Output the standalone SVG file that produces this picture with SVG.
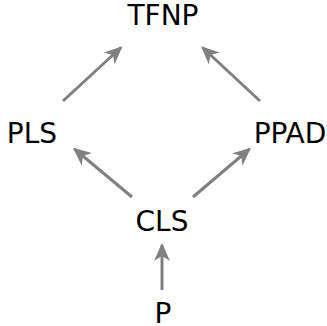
<svg xmlns="http://www.w3.org/2000/svg" width="327" height="326" viewBox="0 0 327 326">
<style>
text{font-family:"DejaVu Sans",sans-serif;font-size:28px;fill:#000;text-anchor:middle}
.e{stroke:#808080;stroke-width:3;fill:none;marker-end:url(#ah)}
</style>
<defs>
<marker id="ah" markerUnits="userSpaceOnUse" viewBox="-20 -10 24 20" refX="0" refY="0" markerWidth="24" markerHeight="20" orient="auto">
<path d="M2,0 L-16,-8 L-11,0 L-16,8 Z" fill="#808080"/>
</marker>
</defs>
<rect width="327" height="326" fill="#fff"/>
<g id="connectors">
<line class="e" x1="63" y1="101" x2="121" y2="47.5"/>
<line class="e" x1="260" y1="101" x2="202.5" y2="47.5"/>
<line class="e" x1="132" y1="197" x2="74.5" y2="149"/>
<line class="e" x1="193" y1="197" x2="249.5" y2="149"/>
<line class="e" x1="162" y1="290" x2="162" y2="245"/>
</g>
<g id="TFNP"><text x="163" y="25">TFNP</text></g>
<g id="PLS"><text x="32" y="143">PLS</text></g>
<g id="PPAD"><text x="290" y="143">PPAD</text></g>
<g id="CLS"><text x="162" y="231">CLS</text></g>
<g id="P"><text x="163" y="323">P</text></g>
</svg>
